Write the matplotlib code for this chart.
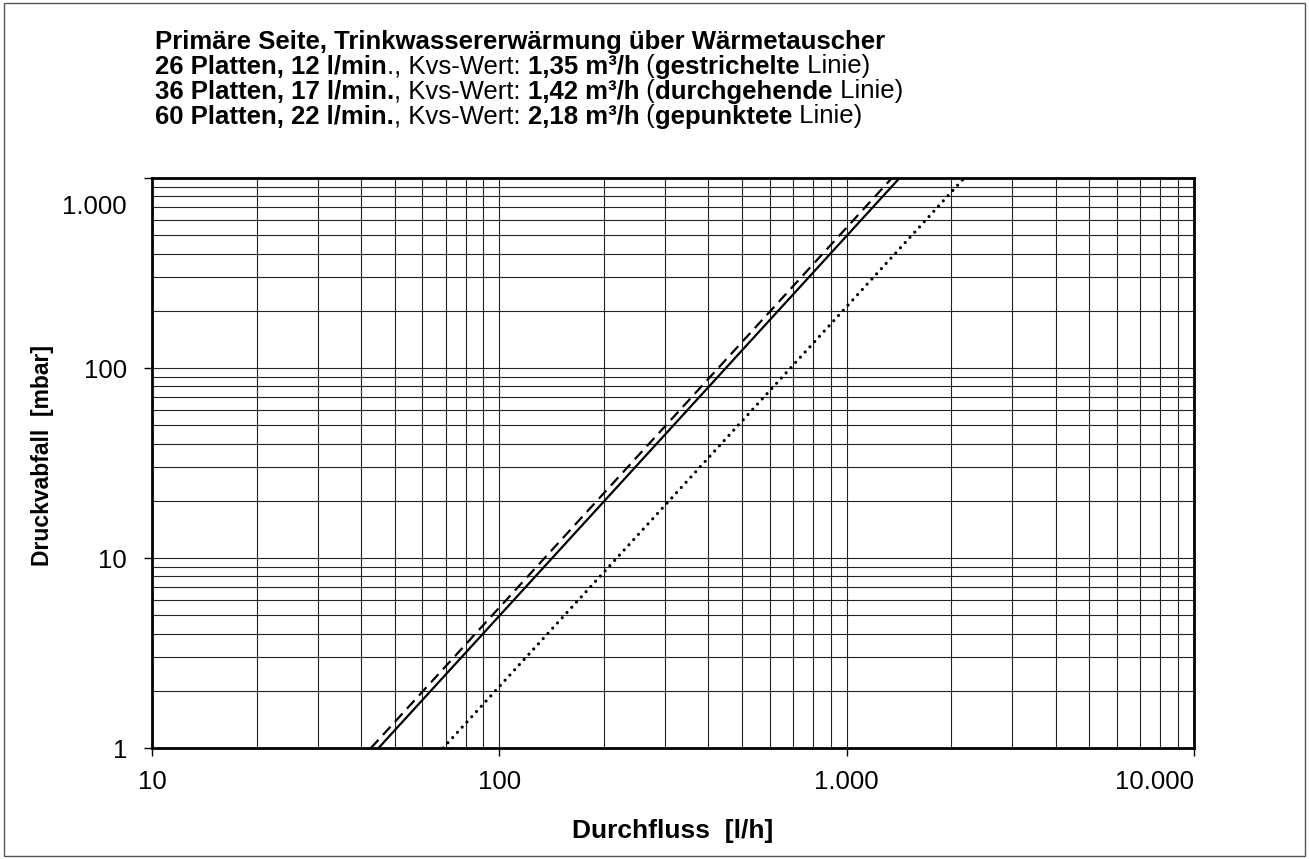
import matplotlib
matplotlib.use("Agg")
import matplotlib.pyplot as plt
from matplotlib.ticker import FixedLocator, LogLocator, NullFormatter
from matplotlib.transforms import ScaledTranslation
from matplotlib.patches import Rectangle

plt.rcParams['font.family'] = ['Liberation Sans', 'DejaVu Sans']

# Data: end points of each straight line in log-log space
flow_dashed = [42.7, 1350]     # l/h, 26 Platten, Kvs 1,35
dp_dashed = [1, 1000]          # mbar
flow_solid = [44.9, 1420]      # l/h, 36 Platten, Kvs 1,42
dp_solid = [1, 1000]
flow_dotted = [68.9, 2180]     # l/h, 60 Platten, Kvs 2,18
dp_dotted = [1, 1000]

x_ticks = [10, 100, 1000, 10000]
x_labels = ['10', '100', '1.000', '10.000']
y_ticks = [1, 10, 100, 1000]
y_labels = ['1', '10', '100', '1.000']

W, H = 1309, 859
fig = plt.figure(figsize=(W / 100, H / 100), dpi=100)
ax = fig.add_axes([152 / W, 1 - 748 / H, (1194 - 152) / W, (748 - 178) / H])

ax.set_xscale('log')
ax.set_yscale('log')
ax.set_xlim(10, 10000)
ax.set_ylim(1, 1000)

ax.plot(flow_dashed, dp_dashed, color='black', lw=1.6, linestyle=(0, (5, 3)))
ax.plot(flow_solid, dp_solid, color='black', lw=1.6, linestyle='-')
ax.plot(flow_dotted, dp_dotted, color='black', lw=2.3, linestyle=(0, (0.01, 2.2)),
        dash_capstyle='round')

ax.xaxis.set_major_locator(FixedLocator(x_ticks))
ax.yaxis.set_major_locator(FixedLocator(y_ticks))
ax.set_xticklabels(x_labels)
ax.set_yticklabels(y_labels)
ax.xaxis.set_minor_locator(LogLocator(base=10, subs=range(2, 10)))
ax.yaxis.set_minor_locator(LogLocator(base=10, subs=range(2, 10)))
ax.xaxis.set_minor_formatter(NullFormatter())
ax.yaxis.set_minor_formatter(NullFormatter())
ax.tick_params(which='major', direction='out', length=6, width=1, labelsize=18.5)
ax.tick_params(axis='x', which='major', pad=10)
ax.tick_params(axis='y', which='major', pad=12)
ax.tick_params(which='minor', length=0)
ax.grid(True, which='both', color='#222222', lw=0.8)
ax.set_axisbelow(True)
for s in ax.spines.values():
    s.set_linewidth(2)
    s.set_color('black')

# top y label sits lower, last x label is right-aligned, as in the reference
lbl = ax.get_yticklabels()[-1]
lbl.set_transform(lbl.get_transform() + ScaledTranslation(0, -0.27, fig.dpi_scale_trans))
ax.get_xticklabels()[-1].set_horizontalalignment('right')

ax.set_xlabel('Durchfluss  [l/h]', fontsize=19, fontweight='bold', labelpad=18)
ax.set_ylabel('Druckvabfall  [mbar]', fontsize=16.5, fontweight='bold')
ax.yaxis.set_label_coords((54 - 152) / 1042, (748 - 455) / 570)

# Title built from bold / regular pieces
title_lines = [
    [('Primäre Seite, Trinkwassererwärmung über Wärmetauscher', 'bold')],
    [('26 Platten, 12 l/min', 'bold'), ('., Kvs-Wert: ', 'normal'), ('1,35 m³/h', 'bold'),
     (' (', 'normal'), ('gestrichelte', 'bold'), (' Linie)', 'normal')],
    [('36 Platten, 17 l/min.', 'bold'), (', Kvs-Wert: ', 'normal'), ('1,42 m³/h', 'bold'),
     (' (', 'normal'), ('durchgehende', 'bold'), (' Linie)', 'normal')],
    [('60 Platten, 22 l/min.', 'bold'), (', Kvs-Wert: ', 'normal'), ('2,18 m³/h', 'bold'),
     (' (', 'normal'), ('gepunktete', 'bold'), (' Linie)', 'normal')],
]
renderer = fig.canvas.get_renderer()
baselines = [49, 74, 99, 124]
for line, yp in zip(title_lines, baselines):
    x = 155
    for txt, wt in line:
        dy = 0.8 if wt == 'normal' else 0.0
        t = fig.text(x / W, 1 - (yp - dy) / H, txt, fontsize=18.5, fontweight=wt,
                     va='baseline', ha='left')
        bb = t.get_window_extent(renderer=renderer)
        x = bb.x1

fig.patches.append(Rectangle((4 / W, 3 / H), 1 - 8 / W, 1 - 6 / H, transform=fig.transFigure,
                             fill=False, edgecolor='#555555', lw=1))

fig.savefig('out.png', dpi=100)
